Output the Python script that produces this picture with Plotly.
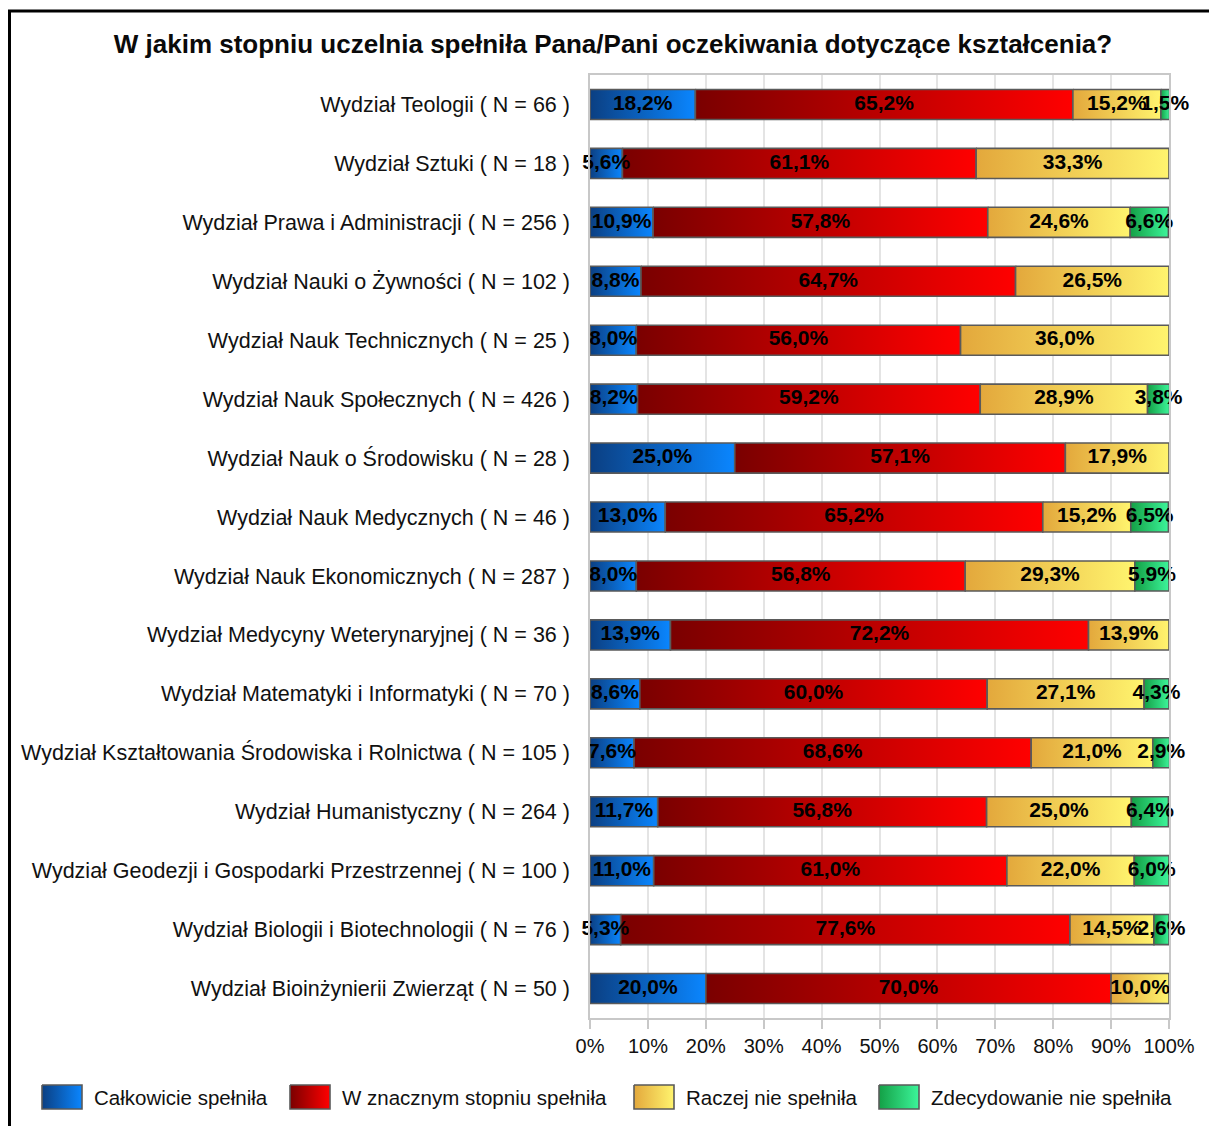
import plotly.graph_objects as go

# the page body adds an 8px margin, so the figure is 8px smaller and shifted
OFF = 8
W, H = 1217 - OFF, 1126 - OFF

faculties = [
    "Wydział Teologii ( N = 66 )",
    "Wydział Sztuki ( N = 18 )",
    "Wydział Prawa i Administracji ( N = 256 )",
    "Wydział Nauki o Żywności ( N = 102 )",
    "Wydział Nauk Technicznych ( N = 25 )",
    "Wydział Nauk Społecznych ( N = 426 )",
    "Wydział Nauk o Środowisku ( N = 28 )",
    "Wydział Nauk Medycznych ( N = 46 )",
    "Wydział Nauk Ekonomicznych ( N = 287 )",
    "Wydział Medycyny Weterynaryjnej ( N = 36 )",
    "Wydział Matematyki i Informatyki ( N = 70 )",
    "Wydział Kształtowania Środowiska i Rolnictwa ( N = 105 )",
    "Wydział Humanistyczny ( N = 264 )",
    "Wydział Geodezji i Gospodarki Przestrzennej ( N = 100 )",
    "Wydział Biologii i Biotechnologii ( N = 76 )",
    "Wydział Bioinżynierii Zwierząt ( N = 50 )",
]

calkowicie = [18.2, 5.6, 10.9, 8.8, 8.0, 8.2, 25.0, 13.0, 8.0, 13.9, 8.6, 7.6, 11.7, 11.0, 5.3, 20.0]
w_znacznym = [65.2, 61.1, 57.8, 64.7, 56.0, 59.2, 57.1, 65.2, 56.8, 72.2, 60.0, 68.6, 56.8, 61.0, 77.6, 70.0]
raczej_nie = [15.2, 33.3, 24.6, 26.5, 36.0, 28.9, 17.9, 15.2, 29.3, 13.9, 27.1, 21.0, 25.0, 22.0, 14.5, 10.0]
zdecydowanie_nie = [1.5, 0, 6.6, 0, 0, 3.8, 0, 6.5, 5.9, 0, 4.3, 2.9, 6.4, 6.0, 2.6, 0]

series = [
    ("Całkowicie spełniła", calkowicie, "#0b3f82", "#0a86ff"),
    ("W znacznym stopniu spełniła", w_znacznym, "#7a0000", "#ff0000"),
    ("Raczej nie spełniła", raczej_nie, "#e3a83c", "#fff46e"),
    ("Zdecydowanie nie spełniła", zdecydowanie_nie, "#14a046", "#3cf59a"),
]

x_ticks = list(range(0, 101, 10))

FONT = "Liberation Sans, Arial, sans-serif"
EDGE = "#5a5a5a"
half = 0.255  # half bar thickness in category units


def px_x(v):
    return (v - OFF) / W


def px_y(v):
    return 1 - (v - OFF) / H


fig = go.Figure()

# stacked segments, each with its own left-to-right gradient
left = [0.0] * len(faculties)
text_layers = []
for name, vals, c0, c1 in series:
    mids, labels, rows = [], [], []
    for i, v in enumerate(vals):
        if v <= 0:
            continue
        x0, x1 = left[i], left[i] + v
        fig.add_trace(go.Scatter(
            x=[x0, x1, x1, x0, x0],
            y=[i - half, i - half, i + half, i + half, i - half],
            mode="lines", fill="toself",
            fillgradient=dict(type="horizontal", colorscale=[[0, c0], [1, c1]]),
            line=dict(color=EDGE, width=1.6),
            hoverinfo="skip", showlegend=False,
        ))
        mids.append((x0 + x1) / 2)
        labels.append(f"{v:.1f}".replace(".", ",") + "%")
        rows.append(i)
        left[i] = x1
    text_layers.append((mids, rows, labels))

# value labels on top of all segments
for mids, rows, labels in text_layers:
    fig.add_trace(go.Scatter(
        x=mids, y=rows, mode="text", text=labels,
        textfont=dict(family=FONT, size=21, color="black", weight="bold"),
        cliponaxis=False, hoverinfo="skip", showlegend=False,
    ))

# custom legend with gradient swatches (pixel coordinates on a hidden overlay axis)
legend_x = [42, 290, 634, 879]
for (name, vals, c0, c1), lx in zip(series, legend_x):
    fig.add_trace(go.Scatter(
        x=[lx, lx + 40, lx + 40, lx, lx],
        y=[1085, 1085, 1109, 1109, 1085],
        xaxis="x2", yaxis="y2",
        mode="lines", fill="toself",
        fillgradient=dict(type="horizontal", colorscale=[[0, c0], [1, c1]]),
        line=dict(color=EDGE, width=1.6),
        hoverinfo="skip", showlegend=False,
    ))
    fig.add_annotation(
        x=lx + 50, y=1097, xref="x2", yref="y2", text=name,
        showarrow=False, xanchor="left", yanchor="middle",
        font=dict(family=FONT, size=20.5, color="#111"),
    )

fig.update_layout(
    width=W, height=H, autosize=False,
    margin=dict(l=0, r=0, t=0, b=0),
    paper_bgcolor="white", plot_bgcolor="rgba(0,0,0,0)",
    showlegend=False,
    title=dict(
        text="W jakim stopniu uczelnia spełniła Pana/Pani oczekiwania dotyczące kształcenia?",
        x=px_x(613), xanchor="center", y=px_y(44), yanchor="middle",
        font=dict(family=FONT, size=26, color="#0a0a0a", weight="bold"),
    ),
    xaxis=dict(
        domain=[px_x(590), px_x(1169)], range=[0, 100],
        tickvals=x_ticks, ticktext=[f"{t}%" for t in x_ticks],
        showgrid=True, gridcolor="#e4e4e4", gridwidth=1.5,
        ticks="outside", ticklen=9, tickwidth=2, tickcolor="#c8c8c8",
        showline=True, linecolor="#c8c8c8", linewidth=1.5, mirror=True,
        zeroline=False, automargin=False,
        tickfont=dict(family=FONT, size=20, color="#111"),
    ),
    yaxis=dict(
        domain=[px_y(1018), px_y(75)], range=[len(faculties) - 0.5, -0.5],
        tickvals=list(range(len(faculties))), ticktext=faculties,
        showgrid=False, zeroline=False,
        ticks="outside", ticklen=14, tickcolor="rgba(0,0,0,0)",
        showline=True, linecolor="#c8c8c8", linewidth=1.5, mirror=True,
        automargin=False,
        tickfont=dict(family=FONT, size=21.5, color="#111"),
    ),
    xaxis2=dict(domain=[0, 1], range=[OFF, OFF + W], visible=False, fixedrange=True),
    yaxis2=dict(domain=[0, 1], range=[OFF + H, OFF], visible=False, fixedrange=True),
    shapes=[dict(
        type="rect", xref="paper", yref="paper",
        x0=1.5 / W, x1=1.02, y0=-0.02, y1=px_y(11),
        line=dict(color="black", width=3), layer="above",
    )],
)

fig.write_html("out.html")
